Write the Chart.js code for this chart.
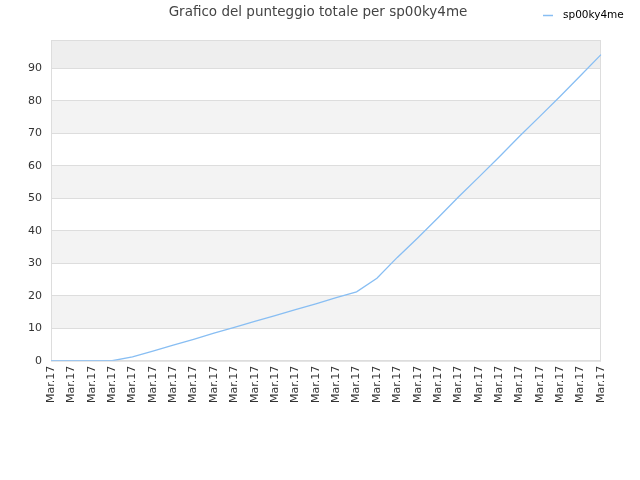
<!DOCTYPE html>
<html>
<head>
<meta charset="utf-8">
<script src="https://cdn.jsdelivr.net/npm/chart.js@4"></script>
<style>
html,body{margin:0;padding:0;background:#fff;}
#wrap{position:relative;width:640px;height:480px;}
</style>
</head>
<body>
<div id="wrap"><canvas id="c" width="640" height="480"></canvas></div>
<script>
const chartTitle = "Grafico del punteggio totale per sp00ky4me";
const seriesName = "sp00ky4me";
const categories = ["Mar.17","Mar.17","Mar.17","Mar.17","Mar.17","Mar.17","Mar.17","Mar.17","Mar.17","Mar.17","Mar.17","Mar.17","Mar.17","Mar.17","Mar.17","Mar.17","Mar.17","Mar.17","Mar.17","Mar.17","Mar.17","Mar.17","Mar.17","Mar.17","Mar.17","Mar.17","Mar.17","Mar.17"];
const scores = [0,0,0,0,1.2,3.0,4.8,6.6,8.5,10.3,12.1,13.9,15.7,17.5,19.4,21.2,25.4,31.8,37.8,44.0,50.4,56.5,62.7,69.1,75.2,81.4,87.8,94.2];
const yTicks = [0,10,20,30,40,50,60,70,80,90];
const yMax = 98.7;
const lineColor = '#88bef3';

const bands = {
  id: 'bands',
  beforeDraw(chart) {
    const {ctx, chartArea: a, scales: {y}} = chart;
    ctx.save();
    for (let i = 0; i < yTicks.length; i++) {
      if (i % 2 === 1) {
        const top = y.getPixelForValue(i + 1 < yTicks.length ? yTicks[i + 1] : yMax);
        const bot = y.getPixelForValue(yTicks[i]);
        ctx.fillStyle = (i + 1 < yTicks.length) ? '#f3f3f3' : '#eeeeee';
        ctx.fillRect(a.left, top, a.right - a.left, bot - top);
      }
    }
    ctx.strokeStyle = '#dddddd';
    ctx.lineWidth = 1;
    ctx.strokeRect(a.left + 0.5, a.top + 0.5, a.right - a.left - 1, a.bottom - a.top);
    ctx.restore();
  }
};

const headerPlugin = {
  id: 'hdr',
  afterDraw(chart) {
    const ctx = chart.ctx;
    ctx.save();
    ctx.font = '13.5px "DejaVu Sans"';
    ctx.fillStyle = '#444';
    ctx.textAlign = 'center';
    ctx.textBaseline = 'middle';
    ctx.fillText(chartTitle, 318, 12);
    ctx.strokeStyle = lineColor;
    ctx.lineWidth = 1.5;
    ctx.beginPath();
    ctx.moveTo(543, 15.5);
    ctx.lineTo(553, 15.5);
    ctx.stroke();
    ctx.font = '10.5px "DejaVu Sans"';
    ctx.fillStyle = '#000';
    ctx.textAlign = 'left';
    ctx.fillText(seriesName, 563, 15);
    ctx.restore();
  }
};

new Chart(document.getElementById('c'), {
  type: 'line',
  data: {
    labels: categories,
    datasets: [{
      label: seriesName,
      data: scores,
      borderColor: lineColor,
      backgroundColor: lineColor,
      borderWidth: 1.3,
      pointRadius: 0,
      tension: 0,
      fill: false
    }]
  },
  options: {
    responsive: false,
    animation: false,
    devicePixelRatio: 1,
    layout: {padding: {left: 19, right: 39, top: 40, bottom: 72}},
    plugins: {
      title: {display: false},
      tooltip: {enabled: false},
      legend: {display: false}
    },
    scales: {
      x: {
        offset: false,
        grid: {display: false, drawTicks: false},
        border: {display: false},
        ticks: {
          autoSkip: false,
          maxRotation: 90,
          minRotation: 90,
          padding: 5,
          color: '#333',
          font: {family: 'DejaVu Sans', size: 11}
        }
      },
      y: {
        min: 0,
        max: yMax,
        afterBuildTicks: (axis) => { axis.ticks = yTicks.map(v => ({value: v})); },
        grid: {color: '#dddddd', drawTicks: false},
        border: {display: false},
        ticks: {
          padding: 9,
          color: '#333',
          font: {family: 'DejaVu Sans', size: 11}
        }
      }
    }
  },
  plugins: [bands, headerPlugin]
});
</script>
</body>
</html>
